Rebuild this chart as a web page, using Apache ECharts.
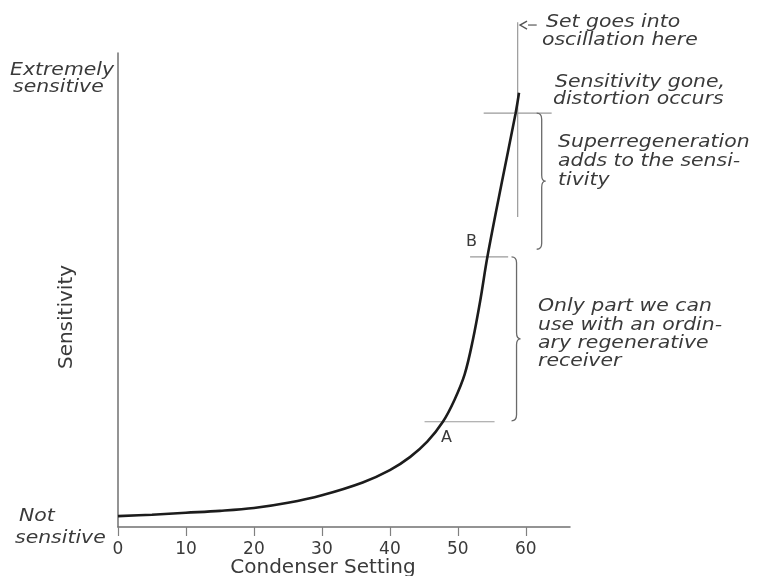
<!DOCTYPE html>
<html><head><meta charset="utf-8">
<script src="https://cdn.jsdelivr.net/npm/echarts@6/dist/echarts.min.js"></script>
<style>html,body{margin:0;padding:0;background:#fff}#c{width:768px;height:576px}</style>
</head><body><div id="c"></div>
<script>
// ---- data ----
const xTickLabels = [0, 10, 20, 30, 40, 50, 60];
const condenser   = [0, 5, 10, 15, 20, 25, 30, 36, 40, 43, 45.5, 47.8, 49.5, 51, 52.2, 53.3, 54.35, 56.4, 58.5, 59];
const sensitivity = [2.3, 2.6, 3.0, 3.4, 4.0, 5.1, 6.7, 9.4, 12.0, 14.8, 18.0, 22.2, 26.8, 32.2, 39.4, 47.8, 57.0, 72.2, 87.3, 91.6];
const guideA   = [[45.1, 22.2], [55.4, 22.2]];
const guideB   = [[51.8, 57.0], [57.4, 57.0]];
const guideTop = [[53.8, 87.3], [63.8, 87.3]];
const oscLine  = [[58.8, 106.5], [58.8, 65.4]];
const oscArrow = [[61.6, 105.9, 59.0]];
const braces   = [[61.6, 87.3, 58.6], [57.9, 57.0, 22.4]];

const chart = echarts.init(document.getElementById('c'));
const txtCol = '#3a3a3a';
const italicFont = 'italic 17px "DejaVu Sans"';
const notes = [
  ['Extremely', 10, 71], ['sensitive', 13, 88],
  ['Not', 19, 517], ['sensitive', 15, 539],
  ['Set goes into', 546, 23], ['oscillation here', 542, 41],
  ['Sensitivity gone,', 555, 83], ['distortion occurs', 553, 100],
  ['Superregeneration', 558, 143], ['adds to the sensi-', 558, 162], ['tivity', 558, 181],
  ['Only part we can', 538, 307], ['use with an ordin-', 538, 326], ['ary regenerative', 538, 344], ['receiver', 538, 362]
];
const graphic = notes.map(n => ({
  type: 'text', x: n[1], y: n[2], scaleX: 1.2,
  style: { text: n[0], x: 0, y: 0, font: italicFont, fill: txtCol, textVerticalAlign: 'middle' }
}));
graphic.push({ type: 'text', x: 466, y: 242, style: { text: 'B', font: '16px "DejaVu Sans"', fill: txtCol, textVerticalAlign: 'middle' } });
graphic.push({ type: 'text', x: 441, y: 438, style: { text: 'A', font: '16px "DejaVu Sans"', fill: txtCol, textVerticalAlign: 'middle' } });
graphic.push({ type: 'text', x: 67, y: 317, rotation: Math.PI / 2,
  style: { text: 'Sensitivity', font: '20px "DejaVu Sans"', fill: txtCol, textAlign: 'center', textVerticalAlign: 'middle' } });
graphic.push({ type: 'text', x: 323, y: 568,
  style: { text: 'Condenser Setting', font: '20px "DejaVu Sans"', fill: txtCol, textAlign: 'center', textVerticalAlign: 'middle' } });

const thin = { color: '#9a9a9a', width: 1.2 };
function guide(data) {
  return { type: 'line', data, symbol: 'none', lineStyle: thin, clip: false, silent: true, z: 1 };
}

chart.setOption({
  animation: false,
  grid: { left: 118, right: 198, top: 53, bottom: 49, containLabel: false, outerBoundsMode: 'none' },
  xAxis: {
    type: 'value', min: 0, max: 66.5, interval: 10,
    axisLine: { lineStyle: { color: '#707070', width: 1.5 } },
    axisTick: { show: true, length: 9, lineStyle: { color: '#808080', width: 1.2 } },
    axisLabel: { fontFamily: 'DejaVu Sans', fontSize: 17, color: txtCol, margin: 14, showMaxLabel: false,
      formatter: v => xTickLabels.includes(v) ? String(v) : '' },
    splitLine: { show: false }
  },
  yAxis: {
    type: 'value', min: 0, max: 100,
    axisLine: { show: true, lineStyle: { color: '#707070', width: 1.5 } },
    axisTick: { show: false }, axisLabel: { show: false }, splitLine: { show: false }
  },
  graphic,
  series: [
    guide(guideA), guide(guideB), guide(guideTop), guide(oscLine),
    {
      type: 'custom', data: oscArrow, silent: true, clip: false,
      encode: { x: [0, 2], y: 1 },
      renderItem: function (params, api) {
        const a = api.coord([api.value(0), api.value(1)]);
        const b = api.coord([api.value(2), api.value(1)]);
        return { type: 'group', children: [
          { type: 'line', shape: { x1: a[0], y1: a[1], x2: b[0] + 9, y2: b[1] }, style: { stroke: '#666', lineWidth: 1.3 } },
          { type: 'polyline', shape: { points: [[b[0] + 8, b[1] - 4], [b[0] + 1, b[1]], [b[0] + 8, b[1] + 4]] }, style: { fill: 'none', stroke: '#555', lineWidth: 1.4 } }
        ] };
      }
    },
    {
      type: 'custom', data: braces, silent: true, clip: false,
      encode: { x: 0, y: [1, 2] },
      renderItem: function (params, api) {
        const a = api.coord([api.value(0), api.value(1)]);
        const b = api.coord([api.value(0), api.value(2)]);
        const L = a[0], M = L + 5, T = L + 9, y1 = a[1], y2 = b[1], ym = (y1 + y2) / 2, r = 6;
        const d = `M${L},${y1} Q${M},${y1} ${M},${y1 + r} L${M},${ym - r} Q${M},${ym} ${T},${ym} Q${M},${ym} ${M},${ym + r} L${M},${y2 - r} Q${M},${y2} ${L},${y2}`;
        return { type: 'path', shape: { pathData: d }, style: { fill: 'none', stroke: '#6a6a6a', lineWidth: 1.3 } };
      }
    },
    {
      type: 'line', data: condenser.map((x, i) => [x, sensitivity[i]]),
      symbol: 'none', smooth: 0.35, clip: false,
      lineStyle: { color: '#1c1c1c', width: 2.6 }, z: 5
    }
  ]
});
</script></body></html>
